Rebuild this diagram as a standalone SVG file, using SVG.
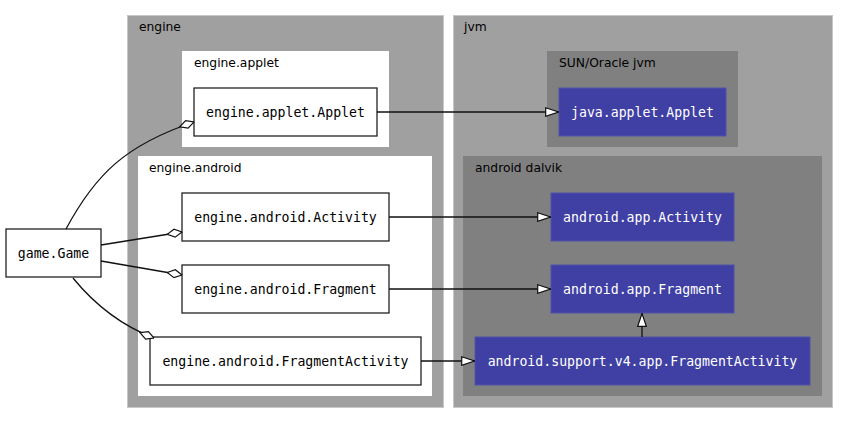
<svg xmlns="http://www.w3.org/2000/svg" width="848" height="423" viewBox="0 0 848 423">
<style>
.cl{font-family:"DejaVu Sans",sans-serif;font-size:12.3px;fill:#000}
.nd{fill:#fff;stroke:#222;stroke-width:1.3}
.bl{fill:#4040a4;stroke:#5050a8;stroke-width:1}
.t{font-family:"DejaVu Sans Mono",monospace;font-size:13.2px;text-anchor:middle}
.tw{font-family:"DejaVu Sans Mono",monospace;font-size:13.2px;text-anchor:middle;fill:#fff}
.e{fill:none;stroke:#111;stroke-width:1.3}
</style>
<defs>
<marker id="tri" viewBox="0 0 14 10" refX="14" refY="5" markerWidth="14" markerHeight="10" markerUnits="userSpaceOnUse" orient="auto">
<path d="M0.7,0.7 L13.5,5 L0.7,9.3 Z" fill="#fff" stroke="#111" stroke-width="1.2"/>
</marker>
<marker id="dia" viewBox="0 0 16 10" refX="15.5" refY="5" markerWidth="16" markerHeight="10" markerUnits="userSpaceOnUse" orient="auto">
<path d="M0.5,5 L8,1 L15.5,5 L8,9 Z" fill="#fff" stroke="#111" stroke-width="1.2"/>
</marker>
</defs>
<rect width="848" height="423" fill="#fff"/>
<g id="cluster-engine">
<rect x="127.5" y="15.5" width="316" height="392" fill="#a0a0a0" stroke="#c8c8c8"/>
<text class="cl" x="139" y="31">engine</text>
</g>
<g id="cluster-engine-applet">
<rect x="182" y="51" width="207" height="96" fill="#fff"/>
<text class="cl" x="194" y="67">engine.applet</text>
</g>
<g id="cluster-engine-android">
<rect x="138" y="156" width="294" height="240" fill="#fff"/>
<text class="cl" x="149" y="172">engine.android</text>
</g>
<g id="cluster-jvm">
<rect x="453.5" y="15.5" width="379" height="392" fill="#a0a0a0" stroke="#c8c8c8"/>
<text class="cl" x="464" y="31">jvm</text>
</g>
<g id="cluster-sun">
<rect x="547" y="51" width="191" height="96" fill="#808080"/>
<text class="cl" x="559" y="67">SUN/Oracle jvm</text>
</g>
<g id="cluster-dalvik">
<rect x="463" y="156" width="359" height="240" fill="#808080"/>
<text class="cl" x="475" y="172">android dalvik</text>
</g>
<g id="engine.applet.Applet">
<rect class="nd" x="194" y="88" width="183" height="48"/>
<text class="t" x="285.5" y="116.5">engine.applet.Applet</text>
</g>
<g id="engine.android.Activity">
<rect class="nd" x="182" y="193" width="207" height="48"/>
<text class="t" x="285.5" y="221.5">engine.android.Activity</text>
</g>
<g id="engine.android.Fragment">
<rect class="nd" x="182" y="265" width="207" height="48"/>
<text class="t" x="285.5" y="293.5">engine.android.Fragment</text>
</g>
<g id="engine.android.FragmentActivity">
<rect class="nd" x="150" y="337" width="271" height="48"/>
<text class="t" x="285.5" y="365.5">engine.android.FragmentActivity</text>
</g>
<g id="game.Game">
<rect class="nd" x="6" y="229" width="95" height="48"/>
<text class="t" x="53.5" y="257.5">game.Game</text>
</g>
<g id="java.applet.Applet">
<rect class="bl" x="559" y="88" width="167" height="48"/>
<text class="tw" x="642.5" y="116.5">java.applet.Applet</text>
</g>
<g id="android.app.Activity">
<rect class="bl" x="551" y="193" width="183" height="48"/>
<text class="tw" x="642.5" y="221.5">android.app.Activity</text>
</g>
<g id="android.app.Fragment">
<rect class="bl" x="551" y="265" width="183" height="48"/>
<text class="tw" x="642.5" y="293.5">android.app.Fragment</text>
</g>
<g id="android.support.v4.app.FragmentActivity">
<rect class="bl" x="475" y="337" width="335" height="48"/>
<text class="tw" x="642.5" y="365.5">android.support.v4.app.FragmentActivity</text>
</g>
<g id="edges">
<path class="e" d="M377,112 L559,112" marker-end="url(#tri)"/>
<path class="e" d="M389,217 L551,217" marker-end="url(#tri)"/>
<path class="e" d="M389,289 L551,289" marker-end="url(#tri)"/>
<path class="e" d="M421,361 L475,361" marker-end="url(#tri)"/>
<path class="e" d="M642,337 L642,313" marker-end="url(#tri)"/>
<path class="e" d="M66,229 C95,175 125,145 194,122" marker-end="url(#dia)"/>
<path class="e" d="M101,245 L182,232" marker-end="url(#dia)"/>
<path class="e" d="M101,261 L182,275" marker-end="url(#dia)"/>
<path class="e" d="M73,278 C95,305 120,325 154,338" marker-end="url(#dia)"/>
</g>
</svg>
